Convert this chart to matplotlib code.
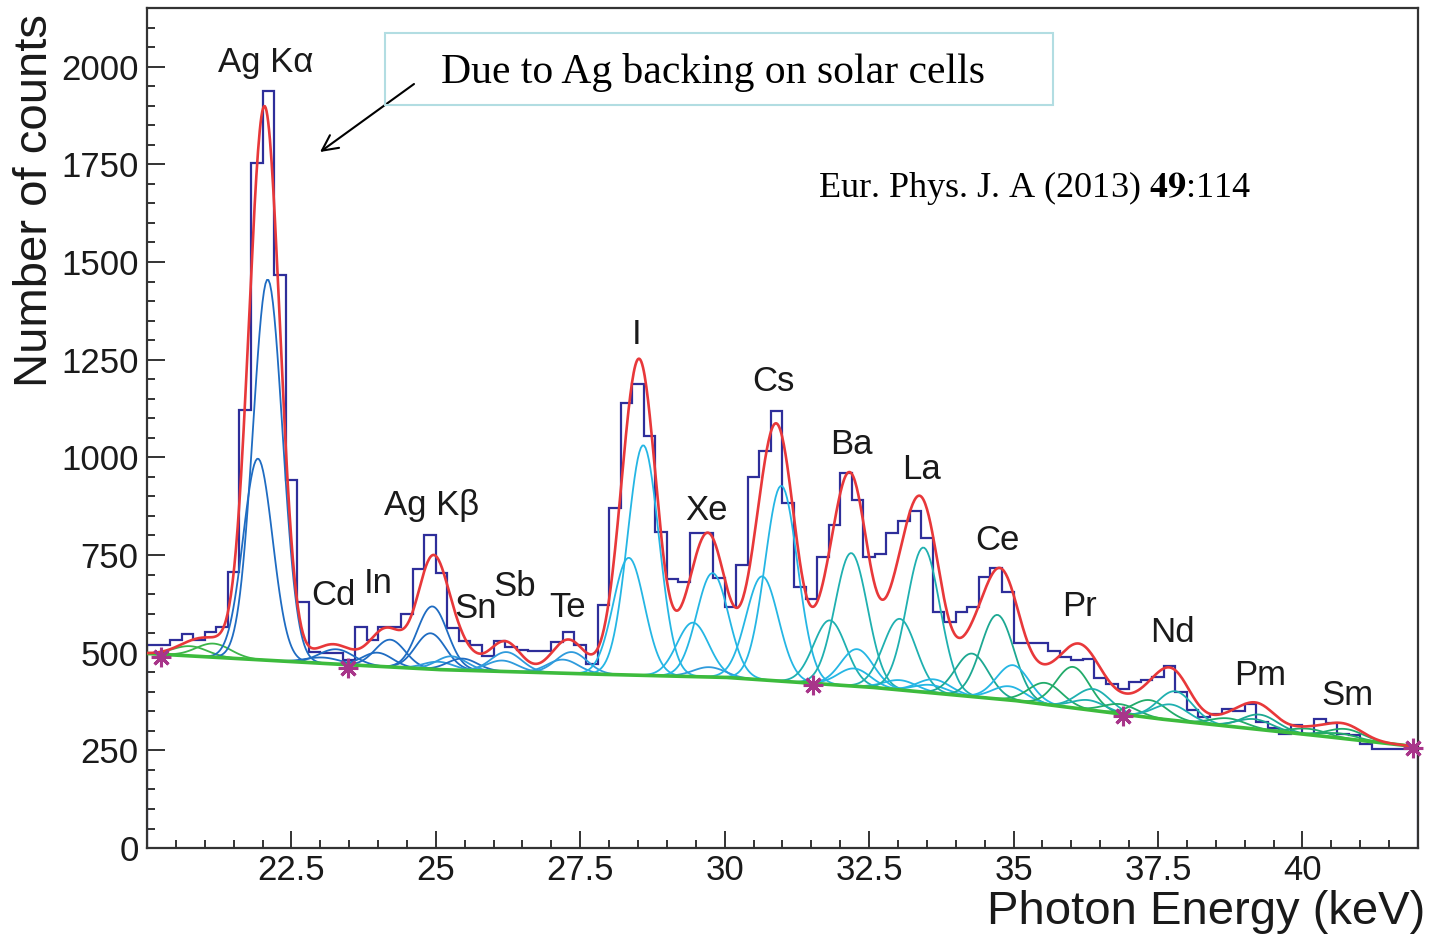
import numpy as np
import matplotlib.pyplot as plt
from matplotlib.patches import Rectangle
from matplotlib.ticker import MultipleLocator

plt.rcParams['font.family'] = ['Liberation Sans', 'DejaVu Sans']
plt.rcParams['mathtext.fontset'] = 'stix'

# measured spectrum, 0.2 keV bins starting at 20 keV
bin_start = 20.0
bin_width = 0.2
counts = [
    520, 520, 533, 549, 533, 554, 567, 706, 1122, 1753,
    1937, 1467, 943, 630, 503, 500, 500, 482, 566, 532,
    566, 566, 598, 714, 802, 705, 562, 530, 520, 492,
    530, 515, 507, 505, 505, 528, 554, 520, 470, 622,
    870, 1140, 1188, 1054, 810, 688, 680, 806, 806, 690,
    618, 725, 951, 1015, 1118, 883, 667, 637, 745, 827,
    960, 891, 746, 752, 806, 838, 863, 793, 605, 579,
    605, 618, 695, 716, 656, 524, 525, 525, 505, 490,
    481, 485, 434, 419, 408, 426, 430, 437, 465, 400,
    353, 336, 344, 357, 350, 368, 323, 306, 293, 314,
    293, 330, 321, 293, 289, 267, 253, 253, 253, 253,
]

# fitted background (green line)
bg_energy = [20.0, 22.5, 25.0, 27.5, 30.0, 32.5, 35.0, 37.5, 40.0, 42.0]
bg_counts = [498, 477, 457, 446, 437, 412, 378, 331, 292, 259]

# fitted x-ray lines: centre (keV), height above background, sigma (keV), group
line_energy = [20.75, 21.15, 21.92, 22.09, 23.05, 23.28, 23.99, 24.21, 24.91, 24.94,
               25.04, 25.27, 25.46, 26.15, 26.22, 27.20, 27.35, 28.34, 28.59, 29.45,
               29.73, 29.79, 30.65, 30.98, 31.82, 32.19, 32.24, 32.29, 33.03, 33.04,
               33.44, 33.56, 33.62, 34.28, 34.72, 34.92, 34.99, 35.55, 36.03, 36.30,
               36.38, 36.85, 37.36, 37.72, 37.80, 38.72, 39.17, 39.26, 40.12, 40.65,
               40.75]
line_height = [25, 35, 515, 975, 15, 38, 35, 70, 92, 161,
               20, 35, 30, 28, 50, 35, 55, 300, 589, 138,
               25, 266, 265, 500, 164, 340, 45, 95, 182, 25,
               370, 20, 35, 110, 215, 35, 90, 55, 105, 25,
               55, 25, 45, 40, 75, 20, 25, 38, 15, 12,
               25]
line_sigma = [0.30, 0.30, 0.255, 0.255, 0.30, 0.30, 0.26, 0.26, 0.26, 0.26,
              0.26, 0.26, 0.26, 0.265, 0.265, 0.27, 0.27, 0.27, 0.27, 0.275,
              0.275, 0.275, 0.28, 0.28, 0.28, 0.28, 0.28, 0.28, 0.285, 0.285,
              0.285, 0.285, 0.285, 0.285, 0.285, 0.285, 0.285, 0.29, 0.29, 0.29,
              0.29, 0.295, 0.295, 0.30, 0.30, 0.30, 0.305, 0.305, 0.31, 0.31,
              0.31]
line_group = ['low', 'low', 'ag', 'ag', 'ag', 'ag', 'ag', 'ag', 'ag', 'ag',
              'sb', 'sb', 'ag', 'sb', 'sb', 'sb', 'sb', 'i', 'i', 'i',
              'sb', 'i', 'i', 'i', 'ba', 'ba', 'i', 'i', 'ba', 'i',
              'ba', 'i', 'i', 'ce', 'ce', 'i', 'i', 'pr', 'pr', 'ba',
              'ba', 'pr', 'pr', 'ba', 'ba', 'pr', 'ce', 'ce', 'pr', 'pr',
              'pr']

group_color = {'low': '#3cb54a', 'ag': '#1f6cc2', 'sb': '#2f9bdc', 'i': '#25b6e4',
               'ba': '#1fb0b0', 'ce': '#1da892', 'pr': '#22ab6a'}

# fit range limits (stars)
mark_energy = [20.24, 23.48, 31.53, 36.89, 41.91]
mark_counts = [490, 460, 417, 338, 255]

peak_names = ['Ag K\u03b1', 'Cd', 'In', 'Ag K\u03b2', 'Sn', 'Sb', 'Te', 'I', 'Xe',
              'Cs', 'Ba', 'La', 'Ce', 'Pr', 'Nd', 'Pm', 'Sm']
name_pos = [(22.06, 2010), (23.22, 646), (24.0, 677), (24.93, 877), (25.69, 613),
            (26.37, 669), (27.28, 615), (28.48, 1315), (29.69, 864), (30.85, 1195),
            (32.2, 1033), (33.41, 969), (34.72, 787), (36.14, 618), (37.75, 551),
            (39.26, 441), (40.78, 390)]


def background(e):
    return np.interp(e, bg_energy, bg_counts)


def gauss(e, c, a, s):
    return a * np.exp(-0.5 * ((e - c) / s) ** 2)


fig = plt.figure(figsize=(14.31, 9.38), dpi=100)
ax = fig.add_axes([0.1027, 0.0959, 0.8882, 0.8955])

edges = bin_start + bin_width * np.arange(len(counts) + 1)
ax.stairs(counts, edges, baseline=0, color='#2e2e9a', lw=1.6, zorder=2)

for c, a, s, g in zip(line_energy, line_height, line_sigma, line_group):
    e = np.linspace(c - 4 * s, c + 4 * s, 80)
    ax.plot(e, background(e) + gauss(e, c, a, s), color=group_color[g], lw=1.3, zorder=3)

e = np.linspace(20, 42, 1500)
total = background(e).copy()
for c, a, s in zip(line_energy, line_height, line_sigma):
    total += gauss(e, c, a, s)
ax.plot(e, background(e), color='#3dbb3d', lw=2.6, zorder=4)
ax.plot(e, total, color='#e8383a', lw=1.9, zorder=5)
ax.plot(mark_energy, mark_counts, ls='none', marker=(8, 2, 0), ms=14, mew=2.2,
        color='#a8358a', zorder=6, clip_on=False)

for name, (x, y) in zip(peak_names, name_pos):
    ax.text(x, y, name, ha='center', va='center', fontsize=25, color='#1a1a1a')

ax.set_xlim(20, 42)
ax.set_ylim(0, 2150)
ax.set_xticks([22.5, 25, 27.5, 30, 32.5, 35, 37.5, 40])
ax.set_xticklabels(['22.5', '25', '27.5', '30', '32.5', '35', '37.5', '40'])
ax.set_yticks(range(0, 2001, 250))
ax.xaxis.set_minor_locator(MultipleLocator(0.5))
ax.yaxis.set_minor_locator(MultipleLocator(50))
ax.tick_params(which='both', direction='in', width=1.4, color='#333333',
               labelsize=25, labelcolor='#1a1a1a')
ax.tick_params(axis='x', which='major', length=12, pad=4)
ax.tick_params(axis='y', which='major', length=13, pad=6)
ax.tick_params(which='minor', length=6)
for sp in ax.spines.values():
    sp.set_linewidth(1.6)
    sp.set_color('#333333')

fig.text(1425 / 1431, 1 - 912 / 938, 'Photon Energy (keV)', ha='right', va='center',
         fontsize=34, color='#1a1a1a')
fig.text(35 / 1431, 1 - 14 / 938, 'Number of counts', rotation=90, ha='center', va='top',
         fontsize=34, color='#1a1a1a')

fig.patches.append(Rectangle((385 / 1431, 1 - 105 / 938), 668 / 1431, 72 / 938,
                             transform=fig.transFigure, fill=False,
                             edgecolor='#b2dde2', lw=1.5, zorder=10))
fig.text(441 / 1431, 1 - 72 / 938, 'Due to Ag backing on solar cells', ha='left',
         va='center', fontsize=30, family='Liberation Serif', zorder=11)
fig.text(818 / 1431, 1 - 188 / 938, r'Eur. Phys. J. A (2013) $\mathbf{49}$:114', ha='left',
         va='center', fontsize=26, family='Liberation Serif')
ax.annotate('', xy=(320 / 1431, 1 - 152 / 938), xytext=(414 / 1431, 1 - 84 / 938),
            xycoords='figure fraction', textcoords='figure fraction',
            arrowprops=dict(arrowstyle='->', lw=1.5, color='black', mutation_scale=28,
                            shrinkA=0, shrinkB=0))

fig.savefig('out.png', dpi=100)
